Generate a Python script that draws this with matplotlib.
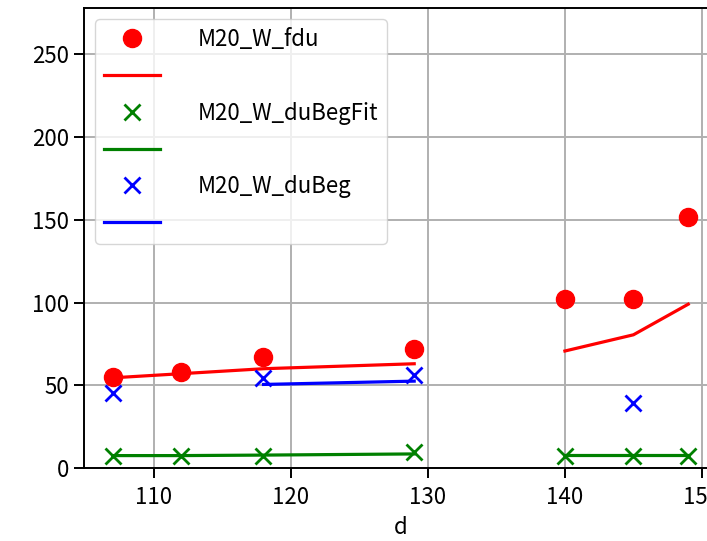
import numpy as np
import matplotlib
matplotlib.use('Agg')
import matplotlib.pyplot as plt

plt.rcParams['font.family'] = ['Noto Sans CJK JP', 'DejaVu Sans']
plt.rcParams['font.size'] = 16

# data
d = [107, 112, 118, 129, 140, 145, 149]
fdu = [55, 58, 67, 72, 102, 102, 151.5]
fdu_fit = [54.5, 57, 60, 63, 70.7, 80.5, 99]
dubegfit = [7.5, 7.5, 7.5, 9.7, 7.5, 7.5, 7.5]
dubegfit_fit = [7.5, 7.5, 7.8, 8.5, 8, 8, 8]
d_beg = [107, 118, 129, 145]
dubeg = [45.5, 54.5, 56, 39]
d_beg_fit = [118, 129]
dubeg_fit = [50.5, 52.5]
segments = [slice(0, 4), slice(4, 7)]

fig = plt.figure(figsize=(7.07, 5.41), dpi=100)
ax = fig.add_axes([84 / 707, 73 / 541, 633 / 707, 460 / 541])

d = np.array(d)
h1, = ax.plot(d, fdu, 'o', color='red', ms=13, label='M20_W_fdu')
for s in segments:
    l1, = ax.plot(d[s], np.array(fdu_fit)[s], '-', color='red', lw=2.3)
h2, = ax.plot(d, dubegfit, 'x', color='green', ms=12, mew=2, label='M20_W_duBegFit')
for s in segments:
    l2, = ax.plot(d[s], np.array(dubegfit_fit)[s], '-', color='green', lw=2.3)
h3, = ax.plot(d_beg, dubeg, 'x', color='blue', ms=12, mew=2, label='M20_W_duBeg')
l3, = ax.plot(d_beg_fit, dubeg_fit, '-', color='blue', lw=2.3)

ax.set_xlim(104.9, 151.1)
ax.set_ylim(0, 278)
ax.set_xticks([110, 120, 130, 140, 150])
ax.set_yticks([0, 50, 100, 150, 200, 250])
ax.set_xlabel('d', labelpad=5)
ax.grid(True, color='#b0b0b0', lw=1.4)
ax.tick_params(length=7, width=1.4)
ax.tick_params(axis='x', pad=6)
for sp in ax.spines.values():
    sp.set_linewidth(1.4)

ax.legend([h1, l1, h2, l2, h3, l3],
          ['M20_W_fdu', '', 'M20_W_duBegFit', '', 'M20_W_duBeg', ''],
          loc='upper left', handlelength=2.5, handletextpad=1.7,
          labelspacing=0.62)

fig.savefig('out.png', dpi=100)
